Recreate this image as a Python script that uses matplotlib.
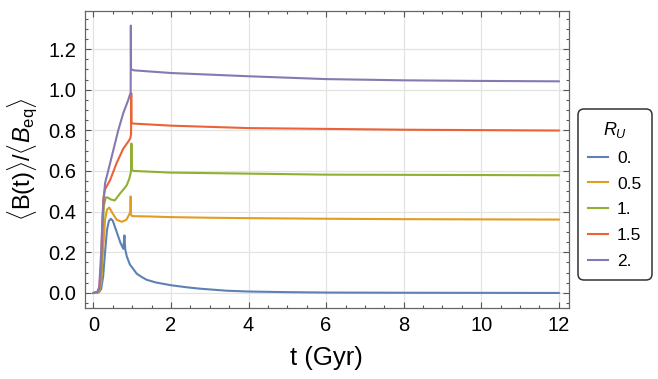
import matplotlib
matplotlib.use("Agg")
import matplotlib.pyplot as plt
from matplotlib.ticker import MultipleLocator
from matplotlib.lines import Line2D

plt.rcParams['font.family'] = ['Liberation Sans', 'DejaVu Sans']
plt.rcParams['mathtext.fontset'] = 'custom'
plt.rcParams['mathtext.rm'] = 'Liberation Sans'
plt.rcParams['mathtext.it'] = 'Liberation Sans:italic'
plt.rcParams['mathtext.bf'] = 'Liberation Sans:bold'

# ---- data ----
labels = ["0.", "0.5", "1.", "1.5", "2."]
colors = ["#5E81B5", "#E19C24", "#8FB032", "#EB6235", "#8778B3"]

t_0 = [0, 0.1, 0.15, 0.2, 0.25, 0.3, 0.35, 0.4, 0.45, 0.5, 0.6, 0.7, 0.77, 0.80, 0.82,
       0.86, 0.94, 1.0, 1.12, 1.25, 1.37, 1.6, 2.0, 2.4, 2.75, 3.44, 4, 5, 6, 8, 10, 12]
y_0 = [0, 0.001, 0.005, 0.02, 0.08, 0.2, 0.31, 0.355, 0.365, 0.355, 0.30, 0.245, 0.217, 0.283, 0.215,
       0.18, 0.14, 0.125, 0.094, 0.078, 0.065, 0.052, 0.038, 0.028, 0.021, 0.011, 0.007, 0.004, 0.002, 0.001, 0.0005, 0.0]

t_05 = [0, 0.1, 0.15, 0.2, 0.25, 0.3, 0.35, 0.41, 0.5, 0.6, 0.73, 0.85, 0.92, 0.955, 0.96, 0.965,
        1.0, 1.5, 2, 3, 4, 6, 8, 10, 12]
y_05 = [0, 0.002, 0.01, 0.05, 0.22, 0.36, 0.41, 0.42, 0.39, 0.36, 0.35, 0.36, 0.385, 0.40, 0.475, 0.385,
        0.378, 0.376, 0.373, 0.370, 0.368, 0.365, 0.363, 0.362, 0.361]

t_1 = [0, 0.1, 0.15, 0.2, 0.24, 0.27, 0.32, 0.36, 0.45, 0.55, 0.69, 0.8, 0.86, 0.93, 0.96, 0.975,
       0.98, 0.985, 1.05, 2, 4, 6, 8, 10, 12]
y_1 = [0, 0.003, 0.015, 0.08, 0.3, 0.43, 0.47, 0.47, 0.46, 0.455, 0.49, 0.515, 0.53, 0.565, 0.59, 0.6,
       0.735, 0.605, 0.60, 0.592, 0.587, 0.582, 0.581, 0.580, 0.579]

t_15 = [0, 0.1, 0.15, 0.2, 0.23, 0.26, 0.30, 0.43, 0.6, 0.77, 0.9, 0.95, 0.97, 0.975, 0.98,
        1.05, 2, 4, 6, 8, 10, 12]
y_15 = [0, 0.004, 0.02, 0.15, 0.35, 0.47, 0.51, 0.555, 0.64, 0.71, 0.745, 0.76, 0.78, 0.983, 0.835,
        0.833, 0.823, 0.811, 0.807, 0.803, 0.801, 0.799]

t_2 = [0, 0.1, 0.15, 0.2, 0.23, 0.26, 0.30, 0.38, 0.51, 0.64, 0.77, 0.9, 0.94, 0.96, 0.965, 0.97,
       1.05, 2, 4, 6, 8, 10, 12]
y_2 = [0, 0.005, 0.03, 0.2, 0.35, 0.45, 0.54, 0.60, 0.70, 0.80, 0.885, 0.95, 0.975, 0.985, 1.315, 1.10,
       1.095, 1.082, 1.066, 1.052, 1.046, 1.043, 1.041]

series_t = [t_0, t_05, t_1, t_15, t_2]
series_y = [y_0, y_05, y_1, y_15, y_2]

xticks = [0, 2, 4, 6, 8, 10, 12]
yticks = [0.0, 0.2, 0.4, 0.6, 0.8, 1.0, 1.2]

# ---- figure ----
fig = plt.figure(figsize=(6.58, 3.79), dpi=100)
ax = fig.add_axes([84.5 / 658, 1 - 308 / 379, (568.5 - 84.5) / 658, (308 - 11) / 379])

for t, y, c in zip(series_t, series_y, colors):
    ax.plot(t, y, color=c, lw=1.5, solid_joinstyle='round')

ax.set_xlim(-0.23, 12.25)
ax.set_ylim(-0.074, 1.387)
ax.set_xticks(xticks)
ax.set_yticks(yticks)
ax.set_xticklabels([str(v) for v in xticks])
ax.set_yticklabels([f"{v:.1f}" for v in yticks])
ax.xaxis.set_minor_locator(MultipleLocator(0.5))
ax.yaxis.set_minor_locator(MultipleLocator(0.05))
ax.grid(True, which='major', color='#e3e3e3', lw=0.9)
ax.set_axisbelow(True)
ax.tick_params(which='both', direction='in', top=True, right=True, color='#555555', width=0.8)
ax.tick_params(which='major', length=4, labelsize=14.5, pad=6)
ax.tick_params(which='minor', length=2.3)
for s in ax.spines.values():
    s.set_color('#666666')
    s.set_linewidth(0.9)

ax.set_xlabel("t (Gyr)", fontsize=18.5, labelpad=8)
ax.set_ylabel(r"$\langle\mathrm{B(t)}\rangle/\langle B_{\mathrm{eq}}\rangle$", fontsize=17, labelpad=6)

handles = [Line2D([], [], color=c, lw=1.5) for c in colors]
leg = fig.legend(handles, labels, title=r"$R_U$", loc='center left',
                 bbox_to_anchor=(578 / 658, 1 - 194.5 / 379), borderaxespad=0,
                 fontsize=12.5, title_fontsize=13,
                 handlelength=1.1, handletextpad=0.55, labelspacing=0.62, borderpad=0.6,
                 frameon=True, fancybox=True)
fr = leg.get_frame()
fr.set_edgecolor('black')
fr.set_linewidth(1.1)
fr.set_boxstyle('round,pad=0,rounding_size=0.35')

fig.savefig("out.png", dpi=100)
